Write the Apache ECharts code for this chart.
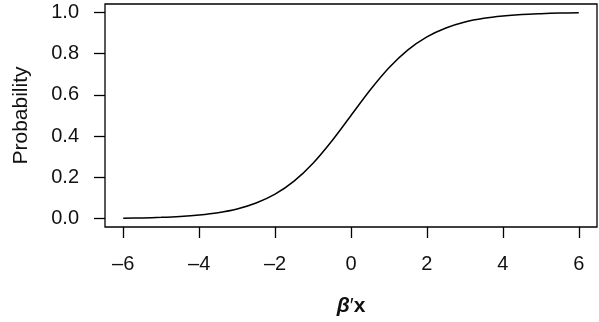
<!DOCTYPE html>
<html>
<head>
<meta charset="utf-8">
<script src="https://cdn.jsdelivr.net/npm/echarts@6/dist/echarts.min.js"></script>
<style>html,body{margin:0;padding:0;background:#fff}#c{width:599px;height:322px}</style>
</head>
<body>
<div id="c"></div>
<script>
const xValues = [-6,-5.5,-5,-4.5,-4,-3.5,-3,-2.5,-2,-1.5,-1,-0.5,0,0.5,1,1.5,2,2.5,3,3.5,4,4.5,5,5.5,6];
const probValues = [0.0025,0.0041,0.0067,0.011,0.018,0.029,0.047,0.076,0.119,0.182,0.269,0.378,0.5,0.622,0.731,0.818,0.881,0.924,0.953,0.971,0.982,0.989,0.993,0.996,0.9975];
const xTicks = [-6,-4,-2,0,2,4,6];
const yTicks = [0,0.2,0.4,0.6,0.8,1.0];

const font = 'Liberation Sans, Arial, sans-serif';
const chart = echarts.init(document.getElementById('c'), null, {renderer:'canvas'});
chart.setOption({
  animation:false,
  backgroundColor:'#fff',
  grid:{left:105, right:2, top:4, bottom:95, show:true, borderColor:'#000', borderWidth:1.3, backgroundColor:'transparent'},
  xAxis:{
    type:'value', min:-6.48, max:6.48,
    axisLine:{show:false, onZero:false},
    splitLine:{show:false},
    axisTick:{show:true, customValues:xTicks, length:11, lineStyle:{color:'#000', width:1.3}},
    axisLabel:{customValues:xTicks, margin:27, color:'#111', fontSize:20, fontFamily:font,
      formatter:v=> (v<0? '\u2013'+Math.abs(v) : String(v))},
    name:'{b|\u03B2}{p|\u2032}{x|x}', nameLocation:'middle', nameGap:69,
    nameTextStyle:{rich:{
      b:{fontStyle:'italic', fontWeight:'bold', fontSize:21, fontFamily:font, color:'#111'},
      p:{fontSize:21, fontFamily:font, color:'#111'},
      x:{fontWeight:'bold', fontSize:21, fontFamily:font, color:'#111'}}}
  },
  yAxis:{
    type:'value', min:-0.04, max:1.04,
    axisLine:{show:false, onZero:false},
    splitLine:{show:false},
    axisTick:{show:true, customValues:yTicks, length:11, lineStyle:{color:'#000', width:1.3}},
    axisLabel:{customValues:yTicks, margin:26, color:'#111', fontSize:20, fontFamily:font,
      formatter:v=>v.toFixed(1)},
    name:'Probability', nameLocation:'middle', nameGap:73, nameRotate:90,
    nameTextStyle:{fontSize:21, fontFamily:font, color:'#111'}
  },
  series:[{
    type:'line', data:xValues.map((x,i)=>[x,probValues[i]]),
    smooth:0.3, showSymbol:false, symbol:'none',
    lineStyle:{color:'#000', width:1.5}
  }]
});
</script>
</body>
</html>
